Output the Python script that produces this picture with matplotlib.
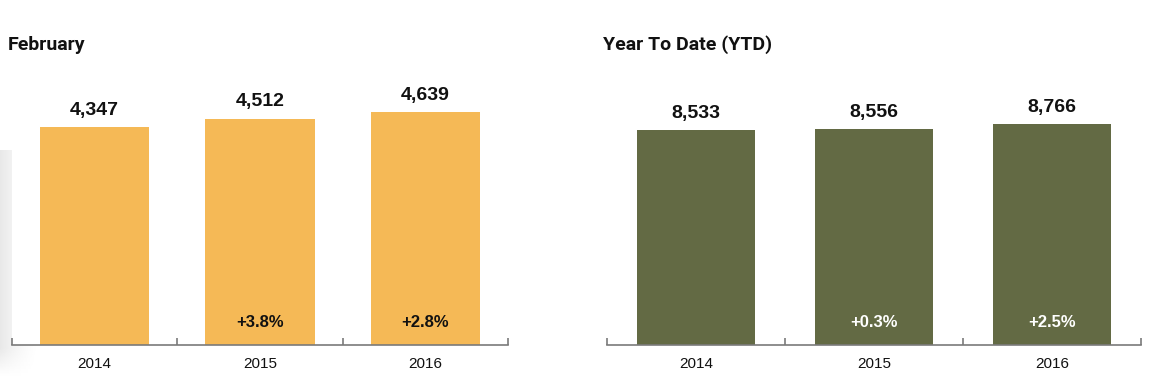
import matplotlib.pyplot as plt
import numpy as np

years = ["2014", "2015", "2016"]
feb_values = [4347, 4512, 4639]
feb_changes = ["", "+3.8%", "+2.8%"]
ytd_values = [8533, 8556, 8766]
ytd_changes = ["", "+0.3%", "+2.5%"]

W, H = 1159, 378
fig = plt.figure(figsize=(W / 100, H / 100), dpi=100)

# faint grey shading on the left edge
shade = fig.add_axes([0, 0, 40 / W, 228 / H])
gx = np.linspace(0, 1, 64)
gy = np.linspace(0, 1, 64)
grad = 1 - 0.09 * np.outer(np.clip(gy[::-1] * 8, 0, 1), (1 - gx) ** 1.5)
shade.imshow(grad, cmap="gray", vmin=0, vmax=1, aspect="auto",
             extent=[0, 1, 0, 1], origin="upper")
shade.axis("off")


def panel(left, right, values, changes, color, pct_color, ymax):
    bottom_px, top_px = 345, 60
    ax = fig.add_axes([left / W, (H - bottom_px) / H, (right - left) / W,
                       (bottom_px - top_px) / H])
    x = np.arange(len(years))
    ax.bar(x, values, width=0.66, color=color)
    ax.set_xlim(-0.5, len(years) - 0.5)
    ax.set_ylim(0, ymax)
    for s in ["top", "right", "left"]:
        ax.spines[s].set_visible(False)
    ax.spines["bottom"].set_color("#7a7a7a")
    ax.spines["bottom"].set_linewidth(1.2)
    ax.set_yticks([])
    ax.set_xticks([-0.5, 0.5, 1.5, 2.5])
    ax.set_xticklabels([])
    ax.tick_params(axis="x", direction="in", length=5, color="#7a7a7a", width=1.2)
    for i, y in enumerate(years):
        ax.text(i, -ymax * 0.043, y, ha="center", va="top", fontsize=11,
                family="Liberation Sans", color="#111111")
    for i, v in enumerate(values):
        ax.annotate(f"{v:,}", (i, v), xytext=(0, 6), textcoords="offset points",
                    ha="center", va="bottom", fontsize=14, fontweight="bold",
                    family="Liberation Sans", color="#111111")
        if changes[i]:
            ax.text(i, ymax * 0.08, changes[i], ha="center", va="center",
                    fontsize=12, fontweight="bold", family="Liberation Sans",
                    color=pct_color)
    return ax


panel(12, 508, feb_values, feb_changes, "#F5B956", "#111111", 5680)
panel(607, 1141, ytd_values, ytd_changes, "#636A44", "white", 11315)

title_font = dict(fontsize=14, fontweight="bold",
                  family=["Roboto", "Liberation Sans"], color="#111111",
                  va="center", ha="left")
fig.text(8 / W, 1 - 45 / H, "February", **title_font)
fig.text(603 / W, 1 - 45 / H, "Year To Date (YTD)", **title_font)

fig.savefig("out.png", dpi=100)
